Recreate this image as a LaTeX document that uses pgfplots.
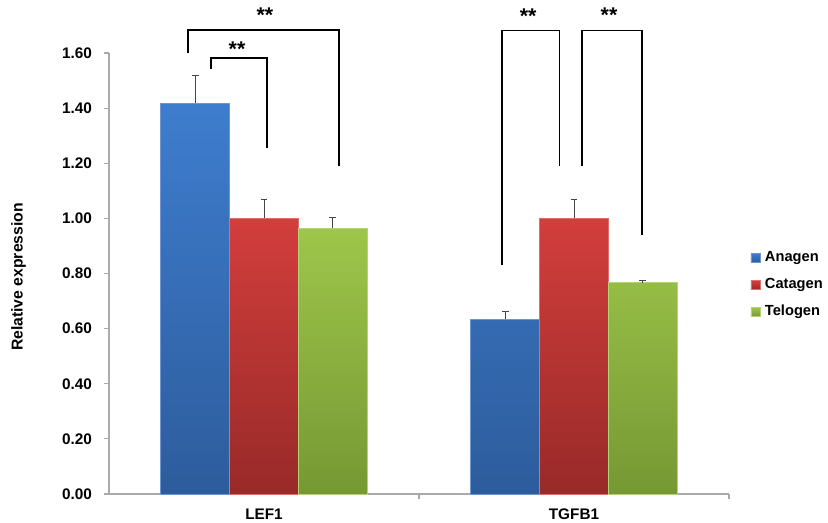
\documentclass[border=0pt]{standalone}
\usepackage{pgfplots}
\pgfplotsset{compat=1.18}
\usepackage{pgfplotstable}
\usepackage{fontspec}
\setmainfont{Liberation Sans}
\definecolor{bluetop}{RGB}{62,125,206}
\definecolor{bluebot}{RGB}{45,92,156}
\definecolor{blueedge}{RGB}{110,150,210}
\definecolor{redtop}{RGB}{210,62,60}
\definecolor{redbot}{RGB}{152,42,40}
\definecolor{rededge}{RGB}{225,110,108}
\definecolor{greentop}{RGB}{158,198,74}
\definecolor{greenbot}{RGB}{118,152,52}
\definecolor{greenedge}{RGB}{180,210,120}
\definecolor{axgray}{RGB}{170,170,170}
\definecolor{errgray}{RGB}{70,70,70}

\pgfplotstableread{
x y e
0 1.418 0.100
1 0.634 0.030
}\anagen
\pgfplotstableread{
x y e
0 1.000 0.070
1 1.000 0.070
}\catagen
\pgfplotstableread{
x y e
0 0.964 0.040
1 0.767 0.008
}\telogen

\begin{document}
\begin{tikzpicture}
\path[use as bounding box] (-81.75pt,-21.75pt) rectangle (539.25pt,370.5pt);
\begin{axis}[
  scale only axis,
  width=465pt, height=330.75pt,
  xmin=-0.5, xmax=1.5, ymin=0, ymax=1.6,
  clip=false,
  axis lines=left,
  axis line style={draw=axgray, line width=0.8pt, -},
  tick align=outside,
  major tick length=3.75pt,
  minor tick length=3.75pt,
  ytick={0,0.2,0.4,0.6,0.8,1.0,1.2,1.4,1.6},
  ytick style={draw=axgray, line width=0.8pt},
  xtick={0,1},
  xticklabels={LEF1,TGFB1},
  xtick style={draw=none},
  minor xtick={0.5,1.5},
  minor x tick style={draw=axgray, line width=0.8pt},
  /pgf/number format/assume math mode=true,
  yticklabel style={/pgf/number format/.cd, fixed, fixed zerofill, precision=2, /tikz/.cd, font=\bfseries\fontsize{11.5}{13}\selectfont, xshift=-5.5pt},
  xticklabel style={font=\bfseries\fontsize{11.5}{13}\selectfont, yshift=-4pt},
  ylabel={Relative expression},
  every axis y label/.style={at={(axis description cs:-0.146,0.492)}, rotate=90, anchor=center, font=\bfseries\fontsize{11.8}{13}\selectfont},
  legend style={at={(1.028,0.474)}, anchor=west, draw=none, fill=none,
    font=\bfseries\fontsize{11}{13}\selectfont, row sep=7.8pt, column sep=2.5pt,
    nodes={inner sep=1pt, text height=8pt, text depth=2.5pt}},
  legend cell align=left,
  legend image code/.code={\fill[#1,/tikz/.cd] (0pt,-3.4pt) rectangle (6.75pt,3.4pt);},
]
\addplot[ybar, bar width=0.222, bar shift=0, draw=blueedge, line width=0.5pt,
  top color=bluetop, bottom color=bluebot,
  error bars/.cd, y dir=plus, y explicit,
  error bar style={draw=errgray, line width=0.6pt},
  error mark options={draw=errgray, rotate=90, mark size=2.6pt, line width=0.6pt}]
  table[x expr=\thisrow{x}-0.222, y=y, y error=e] {\anagen};
\addlegendentry{Anagen}
\addplot[ybar, bar width=0.222, bar shift=0, draw=rededge, line width=0.5pt,
  top color=redtop, bottom color=redbot,
  error bars/.cd, y dir=plus, y explicit,
  error bar style={draw=errgray, line width=0.6pt},
  error mark options={draw=errgray, rotate=90, mark size=2.6pt, line width=0.6pt}]
  table[x=x, y=y, y error=e] {\catagen};
\addlegendentry{Catagen}
\addplot[ybar, bar width=0.222, bar shift=0, draw=greenedge, line width=0.5pt,
  top color=greentop, bottom color=greenbot,
  error bars/.cd, y dir=plus, y explicit,
  error bar style={draw=errgray, line width=0.6pt},
  error mark options={draw=errgray, rotate=90, mark size=2.6pt, line width=0.6pt}]
  table[x expr=\thisrow{x}+0.222, y=y, y error=e] {\telogen};
\addlegendentry{Telogen}

% significance brackets
\draw[line width=1pt] (axis cs:-0.245,1.600) -- (axis cs:-0.245,1.684) -- (axis cs:0.242,1.684) -- (axis cs:0.242,1.190);
\draw[line width=1pt] (axis cs:-0.171,1.542) -- (axis cs:-0.171,1.582) -- (axis cs:0.0097,1.582) -- (axis cs:0.0097,1.256);
\draw[line width=1pt] (axis cs:0.768,0.830) -- (axis cs:0.768,1.681) -- (axis cs:0.954,1.681) -- (axis cs:0.954,1.190);
\draw[line width=1pt] (axis cs:1.026,1.190) -- (axis cs:1.026,1.681) -- (axis cs:1.219,1.681) -- (axis cs:1.219,0.940);
\node[anchor=base, inner sep=0pt, font=\bfseries\fontsize{16}{18}\selectfont] at (axis cs:0.003,1.711) {**};
\node[anchor=base, inner sep=0pt, font=\bfseries\fontsize{16}{18}\selectfont] at (axis cs:-0.087,1.586) {**};
\node[anchor=base, inner sep=0pt, font=\bfseries\fontsize{16}{18}\selectfont] at (axis cs:0.852,1.708) {**};
\node[anchor=base, inner sep=0pt, font=\bfseries\fontsize{16}{18}\selectfont] at (axis cs:1.113,1.711) {**};
\end{axis}
\end{tikzpicture}
\end{document}
